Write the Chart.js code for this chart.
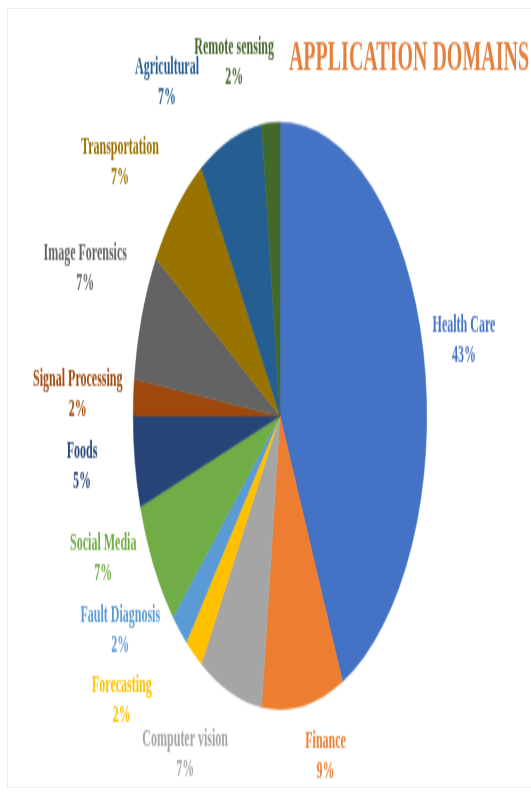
<!DOCTYPE html>
<html lang="en">
<head>
    <meta charset="UTF-8">
    <title>Application Domains</title>
    <script src="https://cdn.jsdelivr.net/npm/chart.js"></script>
    <style>
        html, body { margin: 0; padding: 0; background: #fff; overflow: hidden; }
        #frame { position: absolute; left: 7px; top: 8px; width: 530px; height: 778px; border: 1px solid #ededed; border-right: none; }
        /* the reference is stretched 2x vertically, so draw at half height and scale */
        #wrap { position: absolute; left: 0; top: 0; width: 531px; height: 396px; transform: scaleY(2); transform-origin: 0 0; }
    </style>
</head>
<body>
    <div id="frame"></div>
    <div id="wrap">
        <canvas id="domainsChart" width="531" height="396"></canvas>
    </div>

    <script>
// Data
const domains = ['Health Care', 'Finance', 'Computer vision', 'Forecasting', 'Fault Diagnosis', 'Social Media',
    'Foods', 'Signal Processing', 'Image Forensics', 'Transportation', 'Agricultural', 'Remote sensing'];
const shares = [43, 9, 7, 2, 2, 7, 5, 2, 7, 7, 7, 2];
const sliceColors = ['#4472C4', '#ED7D31', '#A5A5A5', '#FFC000', '#5B9BD5', '#70AD47',
    '#264478', '#9E480E', '#636363', '#997300', '#255E91', '#43682B'];
const titleText = 'APPLICATION DOMAINS';

// label placement: [angle shift from slice middle (deg), distance in radii]
const labelPlace = [[1, 1.28], [-6, 1.20], [9.5, 1.32], [12, 1.45], [13, 1.31], [8.5, 1.30],
    [1.7, 1.36], [-0.5, 1.38], [1, 1.42], [-6.7, 1.39], [-14.4, 1.37], [-11, 1.24]];

const labelPlugin = {
    id: 'outsideLabels',
    afterDatasetsDraw(chart) {
        const ctx = chart.ctx;
        const meta = chart.getDatasetMeta(0);
        ctx.save();
        ctx.textAlign = 'center';
        ctx.textBaseline = 'middle';
        ctx.font = 'bold 12px "Liberation Serif", "Times New Roman", serif';
        meta.data.forEach((arc, i) => {
            const p = arc.getProps(['x', 'y', 'startAngle', 'endAngle', 'outerRadius'], true);
            const a = (p.startAngle + p.endAngle) / 2 + labelPlace[i][0] * Math.PI / 180;
            const d = p.outerRadius * labelPlace[i][1];
            const lx = p.x + Math.cos(a) * d;
            const ly = p.y + Math.sin(a) * d;
            ctx.fillStyle = sliceColors[i];
            ctx.fillText(domains[i], lx, ly - 7.5);
            ctx.fillText(shares[i] + '%', lx, ly + 7.5);
        });
        // title
        ctx.fillStyle = '#E2803E';
        ctx.font = 'bold 20px "Liberation Serif", "Times New Roman", serif';
        ctx.fillText(titleText, 409, 30);
        ctx.restore();
    }
};

const ctx = document.getElementById('domainsChart').getContext('2d');
const chart = new Chart(ctx, {
    type: 'pie',
    data: {
        labels: domains,
        datasets: [
            {
                data: shares,
                backgroundColor: sliceColors,
                borderColor: sliceColors,
                borderWidth: 0.5,
            },
        ],
    },
    options: {
        responsive: false,
        animation: false,
        layout: {
            padding: { left: 133, right: 104, top: 61, bottom: 41 },
        },
        plugins: {
            legend: { display: false },
            tooltip: { enabled: false },
        },
    },
    plugins: [labelPlugin],
});
    </script>
</body>
</html>
